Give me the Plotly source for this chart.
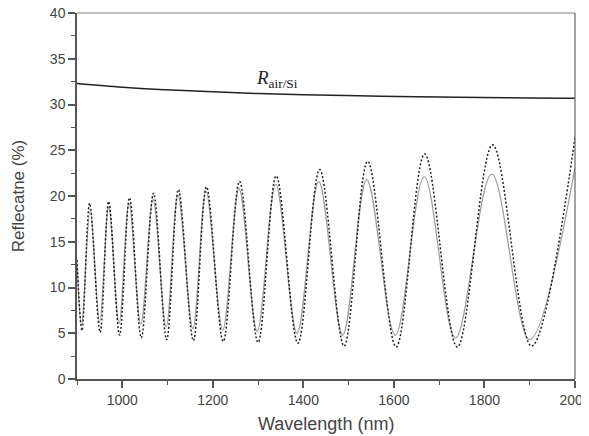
import plotly.graph_objects as go

# Reference line R_air/Si
ref_wl = [900, 1000, 1082, 1200, 1302, 1400, 1522, 1650, 1742, 1850, 1976, 2000]
ref_r = [32.3, 31.9, 31.65, 31.4, 31.2, 31.07, 30.96, 30.86, 30.8, 30.74, 30.7, 30.7]

# Measured (solid gray) curve: read extremes
meas_wl = [900, 910, 929, 950, 970, 993, 1015, 1041, 1068, 1097, 1123, 1156, 1185,
           1222, 1258, 1298, 1339, 1386, 1434, 1487, 1540, 1603, 1667, 1736, 1816,
           1900, 2000]
meas_r = [12.7, 5.9, 18.4, 6.2, 18.8, 6.1, 19.2, 6.0, 19.6, 5.7, 20.1, 5.5, 20.5,
          5.35, 20.8, 5.2, 21.3, 5.0, 21.6, 4.8, 21.8, 4.8, 22.1, 4.5, 22.4,
          4.3, 23.1]

# Simulated (dotted) curve: read extremes
sim_wl = [900, 911, 928, 951, 970, 994, 1016, 1042, 1069, 1098, 1124, 1157, 1186,
          1223, 1259, 1300, 1340, 1388, 1436, 1490, 1542, 1605, 1668, 1740, 1818,
          1904, 2000]
sim_r = [13.0, 5.3, 19.2, 5.1, 19.4, 4.8, 19.8, 4.5, 20.3, 4.3, 20.7, 4.2, 21.0,
         4.1, 21.6, 4.0, 22.2, 3.9, 22.9, 3.6, 23.8, 3.5, 24.6, 3.5, 25.6,
         3.6, 26.4]

x_ticks = [1000, 1200, 1400, 1600, 1800, 2000]
y_ticks = [0, 5, 10, 15, 20, 25, 30, 35, 40]

fig = go.Figure()
fig.add_trace(go.Scatter(x=meas_wl, y=meas_r, mode="lines",
                         line=dict(color="#a0a0a0", width=1.3, shape="spline", smoothing=1.0),
                         showlegend=False))
fig.add_trace(go.Scatter(x=sim_wl, y=sim_r, mode="lines",
                         line=dict(color="#222222", width=1.5, dash="2px,2px", shape="spline", smoothing=1.0),
                         showlegend=False))
fig.add_trace(go.Scatter(x=ref_wl, y=ref_r, mode="lines",
                         line=dict(color="#222222", width=1.5, shape="spline"),
                         showlegend=False))

fig.add_annotation(x=1291, y=32.75, xref="x", yref="y", xanchor="left", yanchor="middle",
                   text="<i>R</i><sub>air/Si</sub>", showarrow=False,
                   font=dict(family="Liberation Serif", size=19, color="#222"))

# Axis titles
fig.add_annotation(x=0.5, y=-0.123, xref="paper", yref="paper", xanchor="center", yanchor="middle",
                   text="Wavelength (nm)", showarrow=False,
                   font=dict(family="Liberation Sans", size=18, color="#444"))
fig.add_annotation(x=-0.118, y=0.5, xref="paper", yref="paper", xanchor="center", yanchor="middle",
                   text="Reflecatne (%)", showarrow=False, textangle=-90,
                   font=dict(family="Liberation Sans", size=17, color="#444"))

axis_common = dict(showline=True, linecolor="#555", linewidth=1.5, ticks="outside",
                   tickcolor="#555", tickwidth=1.5, ticklen=7, showgrid=False, zeroline=False,
                   tickfont=dict(family="Liberation Sans", size=14, color="#444"),
                   ticklabeloverflow="allow",
                   mirror=False, automargin=False)

fig.update_xaxes(range=[900, 2000.01], tickvals=x_ticks, ticktext=[str(v) for v in x_ticks],
                 minor=dict(ticks="outside", ticklen=4, tickcolor="#555", tickwidth=1.2,
                            tickvals=[900, 1100, 1300, 1500, 1700, 1900]),
                 **axis_common)
fig.update_yaxes(range=[0, 40.01], tickvals=y_ticks, ticktext=[str(v) for v in y_ticks],
                 minor=dict(ticks="outside", ticklen=4, tickcolor="#555", tickwidth=1.2,
                            tickvals=[2.5, 7.5, 12.5, 17.5, 22.5, 27.5, 32.5, 37.5]),
                 **axis_common)

fig.add_shape(type="line", xref="paper", yref="paper", x0=0, x1=1, y0=1, y1=1,
              line=dict(color="#aaaaaa", width=1.5))
fig.add_shape(type="line", xref="paper", yref="paper", x0=1, x1=1, y0=0, y1=1,
              line=dict(color="#666666", width=1.2))

# page body has an 8px default margin: size the figure so it fits the 589x436 window
fig.update_layout(width=581, height=428, margin=dict(l=69, r=14, t=5, b=57),
                  plot_bgcolor="white", paper_bgcolor="white")

fig.write_html("out.html")
